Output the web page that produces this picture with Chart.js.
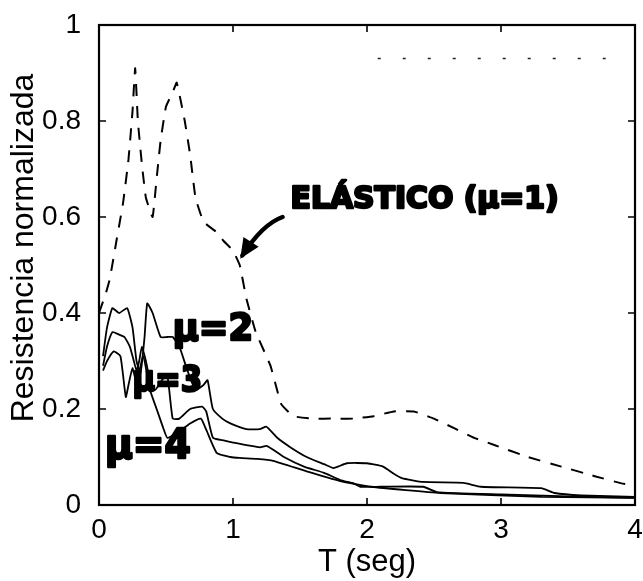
<!DOCTYPE html>
<html>
<head>
<meta charset="utf-8">
<script src="https://cdn.jsdelivr.net/npm/chart.js@4/dist/chart.umd.min.js"></script>
<style>
  html, body { margin: 0; padding: 0; background: #fff; }
  #wrap { width: 643px; height: 581px; }
</style>
</head>
<body>
<div id="wrap"><canvas id="c" width="643" height="581"></canvas></div>
<script>
// ─── data ─────────────────────────────────────────────────────────────
const xTicks = [0, 1, 2, 3, 4];
const yTicks = [0, 0.2, 0.4, 0.6, 0.8, 1];

// elastic spectrum (mu = 1), dashed
const elasticT = [0, 0.05, 0.08, 0.13, 0.18, 0.22, 0.25, 0.27, 0.29, 0.32, 0.35, 0.40, 0.43, 0.46, 0.50, 0.55, 0.58, 0.64, 0.68, 0.72, 0.78, 0.87, 0.93, 1.0, 1.05, 1.1, 1.17, 1.28, 1.36, 1.45, 1.6, 1.75, 1.9, 2.05, 2.2, 2.35, 2.5, 2.65, 2.8, 2.95, 3.2, 3.45, 3.7, 3.9, 4.0];
const elasticV = [0.40, 0.44, 0.47, 0.55, 0.63, 0.72, 0.82, 0.91, 0.80, 0.71, 0.64, 0.60, 0.68, 0.76, 0.83, 0.86, 0.88, 0.80, 0.73, 0.64, 0.59, 0.57, 0.55, 0.53, 0.50, 0.43, 0.36, 0.29, 0.21, 0.185, 0.18, 0.18, 0.18, 0.185, 0.195, 0.195, 0.18, 0.16, 0.14, 0.125, 0.10, 0.08, 0.06, 0.045, 0.04];

// mu = 2
const mu2T = [0.03, 0.06, 0.10, 0.15, 0.21, 0.25, 0.28, 0.31, 0.34, 0.36, 0.40, 0.46, 0.51, 0.55, 0.60, 0.66, 0.72, 0.78, 0.81, 0.85, 0.92, 0.98, 1.1, 1.2, 1.25, 1.33, 1.43, 1.55, 1.68, 1.75, 1.85, 2.0, 2.12, 2.2, 2.26, 2.42, 2.72, 2.85, 3.3, 3.4, 3.6, 4.0];
const mu2V = [0.31, 0.37, 0.41, 0.40, 0.41, 0.37, 0.30, 0.275, 0.35, 0.42, 0.40, 0.35, 0.35, 0.35, 0.33, 0.28, 0.24, 0.25, 0.26, 0.20, 0.18, 0.17, 0.158, 0.158, 0.163, 0.14, 0.12, 0.10, 0.085, 0.077, 0.087, 0.087, 0.08, 0.065, 0.056, 0.048, 0.046, 0.038, 0.035, 0.025, 0.02, 0.017];

// mu = 3
const mu3T = [0.03, 0.06, 0.10, 0.15, 0.19, 0.23, 0.26, 0.28, 0.30, 0.32, 0.35, 0.38, 0.42, 0.47, 0.51, 0.55, 0.60, 0.68, 0.77, 0.80, 0.85, 0.92, 1.0, 1.2, 1.25, 1.30, 1.38, 1.53, 1.68, 1.8, 1.9, 1.95, 2.1, 2.42, 2.52, 3.0, 3.5, 4.0];
const mu3V = [0.29, 0.33, 0.36, 0.355, 0.35, 0.33, 0.30, 0.28, 0.30, 0.33, 0.30, 0.26, 0.24, 0.26, 0.27, 0.18, 0.18, 0.20, 0.205, 0.195, 0.14, 0.135, 0.13, 0.12, 0.123, 0.115, 0.10, 0.08, 0.067, 0.052, 0.045, 0.038, 0.038, 0.038, 0.027, 0.022, 0.018, 0.015];

// mu = 4
const mu4T = [0.03, 0.06, 0.11, 0.16, 0.20, 0.22, 0.25, 0.28, 0.33, 0.38, 0.43, 0.48, 0.51, 0.58, 0.68, 0.76, 0.80, 0.88, 0.98, 1.05, 1.18, 1.3, 1.55, 1.8, 2.03, 2.55, 3.3, 4.0];
const mu4V = [0.28, 0.30, 0.32, 0.31, 0.225, 0.25, 0.285, 0.255, 0.31, 0.24, 0.20, 0.16, 0.14, 0.15, 0.17, 0.18, 0.157, 0.108, 0.10, 0.098, 0.096, 0.092, 0.07, 0.05, 0.038, 0.025, 0.017, 0.015];

// faint dotted trace near the top of the scan
const ghostT = [2.08, 3.93];
const ghostV = [0.93, 0.93];

// handwritten notes, anchored in data units (left edge, middle, width in T)
const notes = [
    { text: 'ELÁSTICO (μ=1)', t: 1.43, v: 0.635, w: 2.0, size: 30 },
    { text: 'μ=2', t: 0.55, v: 0.365, w: 0.60, size: 38 },
    { text: 'μ=3', t: 0.25, v: 0.256, w: 0.52, size: 36 },
    { text: 'μ=4', t: 0.045, v: 0.119, w: 0.64, size: 40 }
];
// arrow from the label towards the dashed curve
const arrowT = [1.37, 1.22, 1.07];
const arrowV = [0.60, 0.585, 0.52];

function pts(t, v) { return t.map((x, i) => ({ x, y: v[i] })); }

const FONT = '"Liberation Sans", Arial, sans-serif';

// ─── frame with inward tick marks + y title ───────────────────────────
const framePlugin = {
    id: 'frame',
    afterDatasetsDraw(chart) {
        const { ctx, chartArea: a, scales } = chart;
        const tl = 7;
        ctx.save();
        ctx.strokeStyle = '#000';
        ctx.lineWidth = 2.2;
        ctx.strokeRect(a.left, a.top, a.right - a.left, a.bottom - a.top);
        ctx.lineWidth = 1.6;
        ctx.beginPath();
        xTicks.forEach(v => {
            const x = scales.x.getPixelForValue(v);
            ctx.moveTo(x, a.bottom); ctx.lineTo(x, a.bottom - tl);
            ctx.moveTo(x, a.top); ctx.lineTo(x, a.top + tl);
        });
        yTicks.forEach(v => {
            const y = scales.y.getPixelForValue(v);
            ctx.moveTo(a.left, y); ctx.lineTo(a.left + tl, y);
            ctx.moveTo(a.right, y); ctx.lineTo(a.right - tl, y);
        });
        ctx.stroke();

        // y title, sits a bit above the middle like in the scan
        ctx.translate(24, (a.top + a.bottom) / 2 - 17);
        ctx.rotate(-Math.PI / 2);
        ctx.fillStyle = '#000';
        ctx.font = `32px ${FONT}`;
        ctx.textAlign = 'center';
        ctx.textBaseline = 'middle';
        ctx.fillText('Resistencia normalizada', 0, 0);
        ctx.restore();
    }
};

// ─── handwritten annotations ──────────────────────────────────────────
const notesPlugin = {
    id: 'notes',
    afterDraw(chart) {
        const { ctx, scales } = chart;
        const px = t => scales.x.getPixelForValue(t);
        const py = v => scales.y.getPixelForValue(v);
        ctx.save();
        ctx.fillStyle = '#000';
        ctx.strokeStyle = '#000';
        ctx.lineJoin = 'round';
        notes.forEach(n => {
            ctx.save();
            ctx.font = `bold ${n.size}px "DejaVu Sans", sans-serif`;
            ctx.textBaseline = 'middle';
            ctx.textAlign = 'left';
            const want = px(n.t + n.w) - px(n.t);
            const sx = want / ctx.measureText(n.text).width;
            ctx.translate(px(n.t), py(n.v));
            ctx.scale(sx, 1);
            ctx.lineWidth = 2.5;
            ctx.fillText(n.text, 0, 0);
            ctx.strokeText(n.text, 0, 0);
            ctx.restore();
        });

        // arrow shaft
        ctx.lineWidth = 4.5;
        ctx.lineCap = 'round';
        ctx.beginPath();
        ctx.moveTo(px(arrowT[0]), py(arrowV[0]));
        ctx.quadraticCurveTo(px(arrowT[1]), py(arrowV[1]), px(arrowT[2]), py(arrowV[2]));
        ctx.stroke();
        // arrow head
        const hx = px(arrowT[2]), hy = py(arrowV[2]);
        const ang = Math.atan2(hy - py(arrowV[1]), hx - px(arrowT[1]));
        ctx.beginPath();
        ctx.moveTo(hx + 4 * Math.cos(ang), hy + 4 * Math.sin(ang));
        ctx.lineTo(hx - 16 * Math.cos(ang) + 9 * Math.sin(ang), hy - 16 * Math.sin(ang) - 9 * Math.cos(ang));
        ctx.lineTo(hx - 16 * Math.cos(ang) - 9 * Math.sin(ang), hy - 16 * Math.sin(ang) + 9 * Math.cos(ang));
        ctx.closePath();
        ctx.fill();
        ctx.restore();
    }
};

const solid = { borderColor: '#000', borderWidth: 1.8, pointRadius: 0, showLine: true, fill: false, tension: 0.15 };

new Chart(document.getElementById('c'), {
    type: 'scatter',
    data: {
        datasets: [
            { label: 'Elástico (μ=1)', data: pts(elasticT, elasticV), borderColor: '#000', borderWidth: 2, borderDash: [12, 10], pointRadius: 0, showLine: true, fill: false, tension: 0.1 },
            Object.assign({ label: 'μ=2', data: pts(mu2T, mu2V) }, solid),
            Object.assign({ label: 'μ=3', data: pts(mu3T, mu3V) }, solid),
            Object.assign({ label: 'μ=4', data: pts(mu4T, mu4V) }, solid),
            { label: 'traza', data: pts(ghostT, ghostV), borderColor: '#222', borderWidth: 1.5, borderDash: [3, 22], pointRadius: 0, showLine: true, fill: false }
        ]
    },
    options: {
        responsive: false,
        animation: false,
        devicePixelRatio: 1,
        layout: { padding: { top: 25, right: 8, left: 0, bottom: 0 } },
        plugins: { legend: { display: false }, tooltip: { enabled: false } },
        scales: {
            x: {
                type: 'linear', min: 0, max: 4,
                grid: { display: false, drawTicks: false },
                border: { display: false },
                afterBuildTicks: s => { s.ticks = xTicks.map(v => ({ value: v })); },
                // fixed box: keep the end labels from pushing the plot area in
                afterFit: s => { s.height = 76; s.paddingLeft = 0; s.paddingRight = 0; },
                ticks: { color: '#000', padding: 8, maxRotation: 0, font: { family: FONT, size: 28 }, callback: v => String(v) },
                title: { display: true, text: 'T (seg)', color: '#000', padding: { top: 2, bottom: 0 }, font: { family: FONT, size: 31 } }
            },
            y: {
                type: 'linear', min: 0, max: 1,
                grid: { display: false, drawTicks: false },
                border: { display: false },
                afterBuildTicks: s => { s.ticks = yTicks.map(v => ({ value: v })); },
                afterFit: s => { s.width = 99; s.paddingTop = 0; s.paddingBottom = 0; },
                ticks: { color: '#000', padding: 18, font: { family: FONT, size: 28 }, callback: v => String(v) },
                title: { display: false }
            }
        }
    },
    plugins: [framePlugin, notesPlugin]
});
</script>
</body>
</html>
